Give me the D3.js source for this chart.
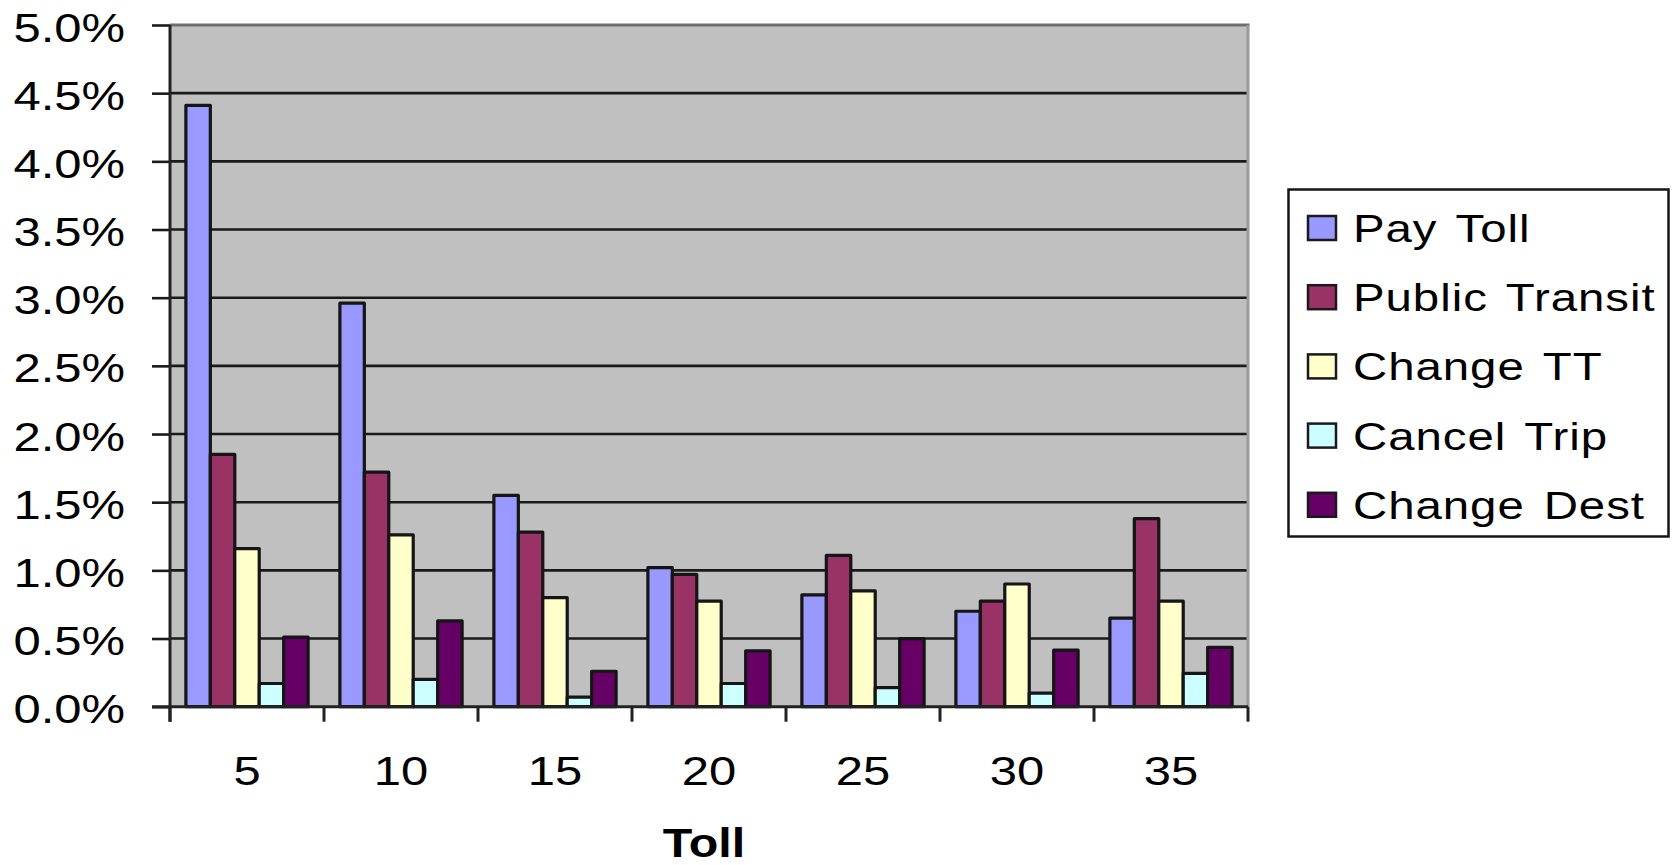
<!DOCTYPE html>
<html>
<head>
<meta charset="utf-8">
<script src="https://cdn.jsdelivr.net/npm/d3@7"></script>
<style>
  html, body { margin: 0; padding: 0; background: #fff; }
  svg { display: block; font-family: "Liberation Sans", Arial, sans-serif; }
</style>
</head>
<body>
<svg id="chart" width="1675" height="865"></svg>
<script>
// Toll levels on the x axis
const categories = ["5", "10", "15", "20", "25", "30", "35"];

// Share of respondents (%) for each response, by toll level
const payToll       = [4.41, 2.96, 1.55, 1.02, 0.82, 0.70, 0.65];
const publicTransit = [1.85, 1.72, 1.28, 0.97, 1.11, 0.775, 1.38];
const changeTT      = [1.16, 1.26, 0.80, 0.775, 0.85, 0.90, 0.775];
const cancelTrip    = [0.17, 0.20, 0.07, 0.17, 0.14, 0.10, 0.245];
const changeDest    = [0.51, 0.63, 0.26, 0.41, 0.50, 0.415, 0.435];

const seriesNames = ["Pay Toll", "Public Transit", "Change TT", "Cancel Trip", "Change Dest"];
const seriesValues = [payToll, publicTransit, changeTT, cancelTrip, changeDest];
const seriesColors = ["#9999ff", "#993366", "#ffffcc", "#ccffff", "#660066"];

const yTicks = [0, 0.5, 1.0, 1.5, 2.0, 2.5, 3.0, 3.5, 4.0, 4.5, 5.0];
const xTitle = "Toll";

const svg = d3.select("#chart");
const plot = { left: 170, right: 1248, top: 25, bottom: 706.7 };
const SX = 1.18; // horizontal stretch of the lettering

const x = d3.scaleBand().domain(categories).range([plot.left, plot.right]).padding(0);
const xs = d3.scaleBand().domain(seriesNames).range([0, x.bandwidth()])
  .paddingInner(0).paddingOuter(0.65);
const y = d3.scaleLinear().domain([0, 5]).range([plot.bottom, plot.top]);

// plot background
svg.append("rect")
  .attr("x", plot.left).attr("y", plot.top)
  .attr("width", plot.right - plot.left).attr("height", plot.bottom - plot.top)
  .attr("fill", "#c0c0c0");

// horizontal gridlines
svg.append("g").selectAll("line")
  .data(yTicks.filter(t => t > 0 && t < 5))
  .join("line")
  .attr("x1", plot.left).attr("x2", plot.right)
  .attr("y1", d => y(d)).attr("y2", d => y(d))
  .attr("stroke", "#1a1a1a").attr("stroke-width", 2.6);

// top and right frame of plot area
svg.append("line")
  .attr("x1", plot.left).attr("x2", plot.right + 1.5)
  .attr("y1", y(5)).attr("y2", y(5))
  .attr("stroke", "#6e6e6e").attr("stroke-width", 3);
svg.append("line")
  .attr("x1", plot.right).attr("x2", plot.right)
  .attr("y1", plot.top).attr("y2", plot.bottom)
  .attr("stroke", "#9a9a9a").attr("stroke-width", 3);

// bars
const groups = svg.append("g").selectAll("g")
  .data(seriesNames.map((name, i) => ({ name, color: seriesColors[i], values: seriesValues[i] })))
  .join("g")
  .attr("fill", d => d.color);

groups.selectAll("rect")
  .data(d => d.values.map((v, j) => ({ name: d.name, cat: categories[j], v })))
  .join("rect")
  .attr("x", d => x(d.cat) + xs(d.name))
  .attr("width", xs.bandwidth())
  .attr("y", d => y(d.v))
  .attr("height", d => y(0) - y(d.v))
  .attr("stroke", "#151515")
  .attr("stroke-width", 3.2)
  .attr("stroke-linejoin", "round");

// y axis with ticks
const yAxis = svg.append("g")
  .attr("transform", `translate(${plot.left},0)`)
  .call(d3.axisLeft(y).tickValues(yTicks).tickSize(18).tickSizeOuter(0).tickFormat(""));
yAxis.select(".domain").remove();
yAxis.selectAll(".tick line").attr("stroke", "#1a1a1a").attr("stroke-width", 2.6);
svg.append("line")
  .attr("x1", plot.left).attr("x2", plot.left)
  .attr("y1", plot.top).attr("y2", plot.bottom + 15)
  .attr("stroke", "#222").attr("stroke-width", 3);

// x axis line and category separators
const xEdges = categories.map(c => x(c)).concat([plot.right]);
svg.append("line")
  .attr("x1", plot.left - 18).attr("x2", plot.right)
  .attr("y1", plot.bottom).attr("y2", plot.bottom)
  .attr("stroke", "#222").attr("stroke-width", 3);
svg.append("g").selectAll("line")
  .data(xEdges)
  .join("line")
  .attr("x1", d => d).attr("x2", d => d)
  .attr("y1", plot.bottom).attr("y2", plot.bottom + 15)
  .attr("stroke", "#222").attr("stroke-width", 3);

// y tick labels
svg.append("g").selectAll("text")
  .data(yTicks)
  .join("text")
  .attr("transform", d => `translate(125,${y(d) + 16.5}) scale(${SX},1)`)
  .attr("text-anchor", "end")
  .attr("font-size", 41.5)
  .attr("fill", "#000")
  .text(d => d3.format(".1f")(d) + "%");

// x tick labels
svg.append("g").selectAll("text")
  .data(categories)
  .join("text")
  .attr("transform", d => `translate(${x(d) + x.bandwidth() / 2},785) scale(${SX},1)`)
  .attr("text-anchor", "middle")
  .attr("font-size", 41.5)
  .attr("fill", "#000")
  .text(d => d);

// x axis title
svg.append("text")
  .attr("transform", `translate(704,857) scale(${SX},1)`)
  .attr("text-anchor", "middle")
  .attr("font-size", 41)
  .attr("font-weight", "bold")
  .attr("fill", "#000")
  .text(xTitle);

// legend
const legend = svg.append("g");
legend.append("rect")
  .attr("x", 1288.5).attr("y", 189.5)
  .attr("width", 380).attr("height", 347)
  .attr("fill", "#fff").attr("stroke", "#151515").attr("stroke-width", 2.5);

const rowY = i => 228 + i * 69.2;
const items = legend.selectAll("g.item")
  .data(seriesNames)
  .join("g")
  .attr("class", "item");
items.append("rect")
  .attr("x", 1308).attr("y", (d, i) => rowY(i) - 12)
  .attr("width", 28).attr("height", 24)
  .attr("fill", (d, i) => seriesColors[i])
  .attr("stroke", "#1a1a1a").attr("stroke-width", 2.5);
items.append("text")
  .attr("transform", (d, i) => `translate(1353,${rowY(i) + 14}) scale(1.2,1)`)
  .attr("font-size", 39.5)
  .attr("letter-spacing", 0.8)
  .attr("word-spacing", 4)
  .attr("fill", "#000")
  .text(d => d);
</script>
</body>
</html>
